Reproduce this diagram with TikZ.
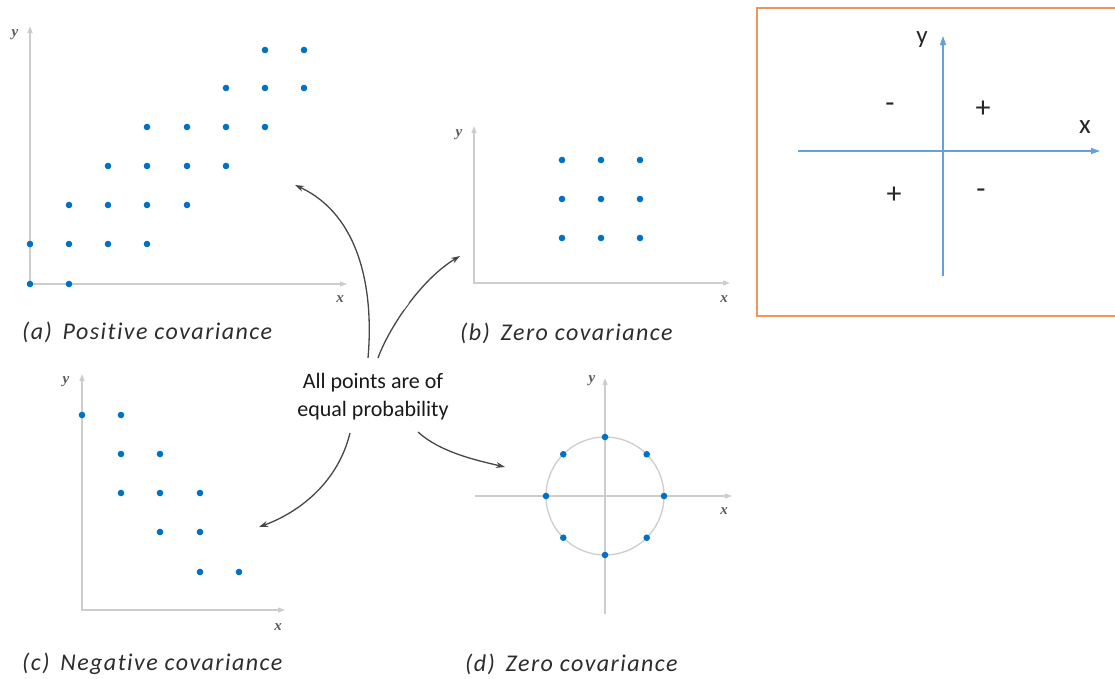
\documentclass[tikz,border=0pt]{standalone}
\usepackage{fontspec}
\newfontfamily\calfont[Ligatures=NoCommon]{Carlito}
\newfontfamily\capfont[LetterSpace=6,Ligatures=NoCommon]{Carlito}
\newfontfamily\axfont{Liberation Serif}
\usetikzlibrary{arrows.meta,calc}
\definecolor{dotblue}{RGB}{0,114,198}
\definecolor{axisgray}{RGB}{205,205,205}
\definecolor{arrowgray}{RGB}{70,70,70}
\definecolor{captiongray}{RGB}{45,45,45}
\definecolor{boxorange}{RGB}{240,150,90}
\definecolor{quadblue}{RGB}{100,160,220}
\tikzset{
  axis/.style={draw=axisgray, line width=1.3pt, -{Triangle[length=7pt,width=5pt]}},
  dotpt/.style={fill=dotblue},
  axlabel/.style={text=black!65, font=\axfont\fontsize{15}{15}\selectfont\bfseries\itshape, inner sep=0pt},
  caption/.style={text=captiongray, font=\capfont\fontsize{24}{26}\selectfont\itshape, anchor=west, inner sep=0pt},
  flowarrow/.style={draw=arrowgray, line width=1.3pt, -{Stealth[length=9pt,width=6pt]}},
  quadaxis/.style={draw=quadblue, line width=1.1pt, -{Triangle[length=9pt,width=6pt]}},
  quadtext/.style={font=\calfont\fontsize{30}{30}\selectfont, text=black!85, inner sep=0pt},
}
\newcommand{\pt}[1]{\fill[dotpt] (#1) circle (3.3pt);}
\begin{document}
\begin{tikzpicture}[x=1pt, y=-1pt]
\useasboundingbox (0,0) rectangle (1115,678);
\clip (0,0) rectangle (1115,678);

% (a) positive covariance
\draw[axis] (30,285) -- (30,26);
\draw[axis] (30,284) -- (347,284);
\node[axlabel] (ay) at (15,35) {y};
\node[axlabel] (ax) at (340,299) {x};
\foreach \u/\v in {30/284,69/284,
                30/244,69/244,108/244,147/244,
                69/205,108/205,147/205,187/205,
                108/166,147/166,187/166,226/166,
                147/127,187/127,226/127,265/127,
                226/88,265/88,304/88,
                265/50,304/50}
  {\pt{\u,\v}}
\node[caption] (capa) at (22,332) {(a)\hspace{0.45em}Positive covariance};

% (b) zero covariance, square grid
\draw[axis] (474,284) -- (474,126);
\draw[axis] (474,283) -- (730,283);
\node[axlabel] (by) at (459,135) {y};
\node[axlabel] (bx) at (724,299) {x};
\foreach \u in {562,601,640}
  \foreach \v in {160,199,238} {\pt{\u,\v}}
\node[caption] (capb) at (460,333) {(b)\hspace{0.45em}Zero covariance};

% (c) negative covariance
\draw[axis] (82,611) -- (82,374);
\draw[axis] (82,610) -- (285,610);
\node[axlabel] (cy) at (66,382) {y};
\node[axlabel] (cx) at (278,627) {x};
\foreach \u/\v in {82/415,121/415,
                   121/454,160/454,
                   121/493,160/493,200/493,
                   160/532,200/532,
                   200/572,239/572}
  {\pt{\u,\v}}
\node[caption] (capc) at (22,664) {(c)\hspace{0.45em}Negative covariance};

% (d) zero covariance, points on a circle
\draw[axisgray, line width=1.3pt] (605,496) circle (59pt);
\draw[axis] (475,496) -- (732,496);
\draw[axis] (605,614) -- (605,378);
\node[axlabel] (dy) at (592,381) {y};
\node[axlabel] (dx) at (724,511) {x};
\foreach \a in {0,45,...,315}
  {\fill[dotpt] ($(605,496)+(\a:59pt)$) circle (3.3pt);}
\node[caption] (capd) at (465,664) {(d)\hspace{0.45em}Zero covariance};

% central statement and arrows to the panels
\node[font=\calfont\fontsize{22}{28}\selectfont, text=black!90, align=center, inner sep=0pt]
  (centre) at (373,397) {All points are of\\equal probability};
\coordinate (toA) at (295,185);
\coordinate (toB) at (460,256);
\coordinate (toC) at (259,527);
\coordinate (toD) at (505,467);
\coordinate (fromA) at (368,358);
\coordinate (fromB) at (378,358);
\coordinate (fromC) at (350,433);
\coordinate (fromD) at (418,432);
\draw[flowarrow] (fromA) .. controls (374,290) and (360,215) .. (toA);
\draw[flowarrow] (fromB) .. controls (388,330) and (420,280) .. (toB);
\draw[white, line width=3pt] (402.6,308.7) -- (407.4,302.3);
\draw[flowarrow] (fromC) .. controls (338,482) and (300,512) .. (toC);
\draw[flowarrow] (fromD) .. controls (440,452) and (475,460) .. (toD);

% sign of the product in each quadrant
\draw[boxorange, line width=2pt] (757,8) rectangle (1120,316);
\draw[quadaxis] (943,276) -- (943,36);
\draw[quadaxis] (798,151) -- (1100,151);
\node[quadtext, font=\calfont\fontsize{25}{25}\selectfont] (qy) at (922,40) {y};
\node[quadtext, font=\calfont\fontsize{27}{27}\selectfont] (qx) at (1085,127) {x};
\node[quadtext] (q2) at (890,108) {-};
\node[quadtext] (q1) at (983,109) {+};
\node[quadtext] (q3) at (894,195) {+};
\node[quadtext] (q4) at (981,194) {-};
\end{tikzpicture}
\end{document}
